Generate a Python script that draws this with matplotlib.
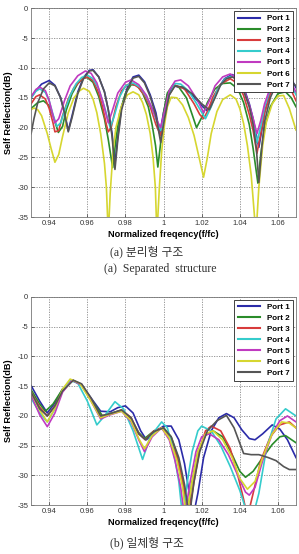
#recreate port self reflection plots (separated / integrated structure)

import numpy as np
import matplotlib.pyplot as plt

plt.rc('font', family=['Liberation Sans', 'DejaVu Sans'])
plt.rc('xtick', labelsize=5.5)
plt.rc('ytick', labelsize=5.5)
plt.rc('axes', unicode_minus=False)

ports = ['Port 1', 'Port 2', 'Port 3', 'Port 4', 'Port 5', 'Port 6', 'Port 7']
colours = ['#2b2ba8', '#2a8c2a', '#d83c3c', '#35cccc', '#c03ac0', '#d6d630', '#555555']
xticks = [0.94, 0.96, 0.98, 1.0, 1.02, 1.04, 1.06]
yticks = [0, -5, -10, -15, -20, -25, -30, -35]

#(a) separated structure
a_x1 = [0.9305, 0.933, 0.936, 0.940, 0.943, 0.946, 0.948, 0.950, 0.952, 0.955, 0.958, 0.961, 0.963, 0.966, 0.969, 0.971, 0.973, 0.9745, 0.976, 0.978, 0.981, 0.984, 0.987, 0.990, 0.993, 0.996, 0.998, 1.000, 1.002, 1.005, 1.010, 1.015, 1.020, 1.023, 1.026, 1.029, 1.032, 1.036, 1.039, 1.042, 1.045, 1.047, 1.0485, 1.050, 1.0515, 1.053, 1.056, 1.059, 1.063, 1.066, 1.0695]
a_y1 = [-15.0, -13.8, -12.7, -12.1, -12.9, -15.0, -17.5, -20.5, -18.0, -14.0, -11.6, -10.4, -10.3, -11.5, -14.0, -17.0, -21.0, -26.0, -21.5, -16.5, -13.3, -11.5, -11.2, -12.3, -14.5, -17.5, -21.0, -17.5, -14.5, -13.0, -13.3, -14.5, -16.3, -17.2, -15.5, -13.2, -11.8, -11.1, -11.6, -13.2, -16.0, -18.5, -21.0, -23.3, -20.5, -17.5, -14.0, -11.8, -10.7, -11.2, -13.3]
a_x2 = [0.9305, 0.934, 0.937, 0.940, 0.942, 0.9448, 0.947, 0.949, 0.952, 0.955, 0.958, 0.960, 0.963, 0.966, 0.969, 0.971, 0.9733, 0.975, 0.977, 0.980, 0.983, 0.986, 0.989, 0.992, 0.994, 0.9958, 0.997, 0.9985, 1.000, 1.002, 1.005, 1.008, 1.012, 1.015, 1.0173, 1.020, 1.023, 1.027, 1.031, 1.035, 1.039, 1.042, 1.045, 1.047, 1.0495, 1.051, 1.053, 1.056, 1.060, 1.064, 1.067, 1.0695]
a_y2 = [-16.8, -15.8, -15.5, -16.3, -18.0, -20.8, -19.8, -17.0, -14.3, -12.6, -11.7, -11.6, -12.4, -14.8, -18.5, -22.0, -26.7, -22.0, -17.5, -14.3, -12.8, -12.9, -14.2, -16.5, -19.5, -23.0, -26.6, -22.5, -17.5, -14.2, -12.8, -13.2, -15.0, -17.8, -20.0, -18.3, -15.8, -13.5, -12.6, -12.5, -13.5, -15.8, -19.5, -23.5, -29.3, -24.5, -20.0, -16.5, -14.3, -14.0, -15.0, -16.5]
a_x3 = [0.9305, 0.933, 0.935, 0.938, 0.940, 0.942, 0.943, 0.945, 0.947, 0.950, 0.953, 0.957, 0.960, 0.963, 0.966, 0.968, 0.970, 0.971, 0.9725, 0.975, 0.978, 0.981, 0.984, 0.987, 0.990, 0.993, 0.996, 0.9985, 1.0005, 1.003, 1.006, 1.011, 1.016, 1.019, 1.021, 1.023, 1.026, 1.030, 1.035, 1.039, 1.042, 1.045, 1.047, 1.049, 1.051, 1.053, 1.056, 1.059, 1.062, 1.066, 1.0695]
a_y3 = [-16.0, -14.8, -14.5, -15.2, -16.8, -19.2, -20.7, -20.5, -18.0, -15.2, -13.3, -11.9, -11.5, -12.1, -14.2, -16.5, -19.5, -20.7, -20.0, -16.5, -13.8, -12.8, -12.7, -13.3, -14.6, -16.5, -19.5, -21.3, -18.5, -14.5, -12.9, -13.5, -16.0, -17.8, -18.5, -17.3, -14.8, -12.7, -11.8, -12.6, -14.6, -17.8, -20.5, -24.3, -21.0, -17.5, -14.3, -12.5, -12.0, -13.0, -15.5]
a_x4 = [0.9305, 0.933, 0.935, 0.938, 0.940, 0.942, 0.944, 0.946, 0.948, 0.951, 0.954, 0.957, 0.960, 0.963, 0.966, 0.969, 0.972, 0.974, 0.977, 0.980, 0.984, 0.988, 0.991, 0.994, 0.9965, 0.9985, 1.0005, 1.003, 1.006, 1.009, 1.013, 1.017, 1.022, 1.025, 1.028, 1.032, 1.036, 1.039, 1.042, 1.045, 1.047, 1.049, 1.051, 1.053, 1.056, 1.059, 1.062, 1.066, 1.0695]
a_y4 = [-15.0, -13.9, -13.5, -14.1, -15.5, -17.8, -19.8, -19.2, -17.2, -14.6, -12.7, -11.6, -11.2, -11.8, -13.5, -16.5, -20.0, -18.2, -14.8, -13.0, -12.5, -13.3, -14.8, -16.8, -19.0, -20.5, -18.0, -14.5, -12.6, -12.7, -13.8, -15.8, -18.5, -16.5, -13.8, -11.9, -11.3, -11.9, -13.7, -16.5, -19.0, -22.5, -19.8, -16.5, -13.6, -11.9, -11.4, -12.3, -14.5]
a_x5 = [0.9305, 0.933, 0.935, 0.938, 0.940, 0.942, 0.943, 0.945, 0.948, 0.951, 0.955, 0.959, 0.962, 0.965, 0.968, 0.971, 0.973, 0.976, 0.980, 0.983, 0.987, 0.991, 0.994, 0.9965, 0.9985, 1.0005, 1.003, 1.006, 1.009, 1.013, 1.018, 1.021, 1.024, 1.027, 1.031, 1.035, 1.039, 1.042, 1.045, 1.047, 1.049, 1.051, 1.053, 1.056, 1.059, 1.062, 1.066, 1.0695]
a_y5 = [-14.8, -13.6, -13.2, -13.8, -15.5, -18.0, -19.2, -18.5, -15.5, -13.0, -11.3, -10.5, -10.9, -12.5, -15.5, -19.2, -17.3, -14.2, -12.4, -12.0, -12.8, -14.6, -16.8, -18.8, -20.0, -17.2, -13.8, -12.2, -12.0, -13.0, -15.5, -17.5, -15.5, -13.0, -11.5, -11.0, -11.8, -13.5, -16.2, -18.5, -21.0, -18.8, -16.0, -13.3, -11.7, -11.2, -12.0, -14.0]
a_x6 = [0.9305, 0.932, 0.934, 0.936, 0.939, 0.941, 0.943, 0.945, 0.947, 0.950, 0.953, 0.956, 0.958, 0.961, 0.963, 0.965, 0.967, 0.969, 0.970, 0.971, 0.972, 0.9735, 0.975, 0.978, 0.981, 0.984, 0.987, 0.989, 0.991, 0.993, 0.9945, 0.9957, 0.9965, 0.9978, 0.999, 1.0005, 1.002, 1.004, 1.007, 1.010, 1.013, 1.016, 1.0185, 1.021, 1.023, 1.025, 1.028, 1.031, 1.035, 1.038, 1.040, 1.042, 1.044, 1.046, 1.047, 1.0485, 1.050, 1.052, 1.054, 1.057, 1.060, 1.063, 1.066, 1.0695]
a_y6 = [-17.0, -16.7, -17.0, -18.0, -21.0, -23.5, -25.8, -24.5, -21.5, -17.5, -15.0, -13.8, -13.4, -13.9, -15.2, -17.5, -21.0, -26.0, -30.0, -38.0, -31.0, -24.0, -20.0, -16.3, -14.5, -14.0, -14.5, -15.8, -17.8, -21.0, -25.0, -30.0, -38.0, -30.0, -24.0, -19.5, -16.5, -14.9, -15.0, -16.2, -18.3, -21.3, -24.8, -28.3, -25.0, -21.0, -17.3, -15.3, -14.5, -15.2, -16.8, -19.3, -23.0, -28.0, -32.0, -38.0, -30.0, -23.0, -19.0, -16.0, -14.7, -14.6, -16.8, -20.4]
a_x7 = [0.9305, 0.932, 0.934, 0.937, 0.940, 0.943, 0.946, 0.948, 0.950, 0.952, 0.955, 0.958, 0.961, 0.963, 0.966, 0.969, 0.971, 0.973, 0.9745, 0.976, 0.978, 0.981, 0.984, 0.987, 0.990, 0.993, 0.996, 0.9985, 1.0005, 1.003, 1.006, 1.010, 1.015, 1.020, 1.024, 1.027, 1.030, 1.033, 1.036, 1.039, 1.042, 1.045, 1.047, 1.0487, 1.050, 1.0515, 1.053, 1.056, 1.059, 1.063, 1.066, 1.0695]
a_y7 = [-21.0, -18.5, -15.8, -13.5, -12.5, -13.0, -15.0, -17.5, -20.7, -18.3, -14.3, -11.8, -10.5, -10.4, -11.5, -14.0, -17.0, -21.5, -27.0, -22.0, -17.0, -13.6, -11.7, -11.4, -12.5, -14.8, -18.0, -22.5, -18.5, -14.5, -13.0, -13.2, -14.3, -16.0, -17.0, -15.0, -12.8, -11.8, -11.5, -12.0, -13.8, -16.5, -19.5, -23.5, -29.2, -23.5, -19.0, -15.0, -12.8, -11.8, -12.0, -13.0]

#(b) integrated structure
b_x1 = [0.9305, 0.935, 0.939, 0.943, 0.947, 0.9525, 0.957, 0.962, 0.967, 0.972, 0.976, 0.980, 0.984, 0.988, 0.991, 0.995, 1.000, 1.004, 1.008, 1.011, 1.0135, 1.0155, 1.018, 1.021, 1.025, 1.029, 1.033, 1.037, 1.041, 1.045, 1.048, 1.052, 1.057, 1.061, 1.065, 1.0695]
b_y1 = [-14.9, -17.5, -19.5, -17.8, -15.5, -14.0, -14.8, -17.0, -19.2, -19.3, -18.6, -18.3, -19.5, -22.5, -24.0, -22.8, -21.7, -21.7, -24.0, -28.0, -33.0, -37.0, -33.0, -27.0, -22.5, -20.3, -19.6, -20.3, -22.3, -23.8, -24.0, -23.0, -21.5, -22.2, -24.0, -27.0]
b_x2 = [0.9305, 0.935, 0.938, 0.942, 0.947, 0.952, 0.957, 0.962, 0.968, 0.973, 0.978, 0.983, 0.987, 0.990, 0.995, 1.000, 1.004, 1.007, 1.010, 1.012, 1.015, 1.018, 1.022, 1.026, 1.031, 1.036, 1.040, 1.043, 1.047, 1.052, 1.057, 1.061, 1.064, 1.0695]
b_y2 = [-15.6, -18.0, -19.2, -18.0, -15.5, -14.0, -14.8, -17.2, -20.0, -19.5, -19.0, -20.5, -22.8, -23.8, -22.5, -22.0, -23.5, -26.5, -31.0, -37.0, -31.0, -26.0, -23.2, -22.5, -23.5, -26.5, -29.3, -30.3, -29.3, -27.0, -24.8, -23.5, -23.3, -24.5]
b_x3 = [0.9305, 0.935, 0.939, 0.943, 0.947, 0.952, 0.957, 0.962, 0.967, 0.972, 0.978, 0.983, 0.987, 0.9905, 0.995, 0.999, 1.003, 1.007, 1.0105, 1.013, 1.016, 1.019, 1.022, 1.025, 1.030, 1.035, 1.039, 1.042, 1.044, 1.047, 1.051, 1.056, 1.061, 1.066, 1.0695]
b_y3 = [-16.0, -18.5, -20.0, -18.3, -15.8, -14.0, -14.7, -17.3, -20.0, -19.7, -19.0, -20.3, -23.0, -24.0, -22.5, -22.0, -23.5, -27.0, -31.5, -37.0, -31.0, -25.5, -22.5, -21.7, -22.5, -25.5, -30.0, -34.0, -37.0, -33.0, -27.5, -23.5, -21.5, -21.0, -22.0]
b_x4 = [0.9305, 0.935, 0.939, 0.943, 0.947, 0.951, 0.955, 0.960, 0.965, 0.969, 0.9745, 0.979, 0.984, 0.989, 0.993, 0.999, 1.002, 1.005, 1.008, 1.010, 1.0125, 1.015, 1.018, 1.020, 1.025, 1.030, 1.035, 1.040, 1.043, 1.046, 1.050, 1.054, 1.059, 1.064, 1.0695]
b_y4 = [-17.0, -19.5, -21.0, -18.8, -15.8, -14.0, -14.5, -17.5, -21.5, -20.0, -17.6, -18.8, -22.5, -27.3, -23.5, -21.0, -22.0, -25.5, -31.0, -37.0, -31.0, -26.0, -22.5, -21.7, -22.5, -25.0, -28.5, -32.5, -35.5, -38.0, -33.0, -25.5, -20.5, -18.8, -20.0]
b_x5 = [0.9305, 0.935, 0.939, 0.943, 0.947, 0.952, 0.957, 0.962, 0.967, 0.972, 0.978, 0.983, 0.987, 0.990, 0.994, 0.999, 1.003, 1.006, 1.009, 1.011, 1.014, 1.017, 1.020, 1.024, 1.029, 1.034, 1.039, 1.043, 1.045, 1.048, 1.052, 1.057, 1.061, 1.065, 1.0695]
b_y5 = [-16.5, -19.8, -21.8, -19.5, -16.0, -14.0, -14.8, -17.5, -20.5, -19.8, -19.2, -21.0, -24.0, -26.0, -23.5, -22.0, -24.0, -27.5, -32.0, -37.0, -31.0, -26.0, -23.5, -23.0, -24.0, -26.5, -30.0, -32.8, -33.3, -32.0, -27.5, -23.0, -20.8, -20.0, -21.0]
b_x6 = [0.9305, 0.935, 0.939, 0.943, 0.947, 0.951, 0.956, 0.961, 0.967, 0.972, 0.978, 0.983, 0.987, 0.990, 0.994, 0.999, 1.003, 1.007, 1.010, 1.012, 1.015, 1.018, 1.022, 1.026, 1.031, 1.036, 1.040, 1.044, 1.048, 1.052, 1.057, 1.062, 1.066, 1.0695]
b_y6 = [-16.0, -19.0, -21.0, -18.7, -15.5, -13.8, -14.5, -17.0, -20.3, -19.7, -19.2, -20.8, -23.8, -25.5, -23.3, -22.0, -23.7, -27.5, -32.0, -37.0, -31.0, -26.0, -23.0, -22.5, -24.0, -27.0, -30.5, -32.3, -31.0, -27.0, -23.0, -21.0, -21.2, -22.0]
b_x7 = [0.9305, 0.935, 0.939, 0.943, 0.947, 0.9527, 0.957, 0.962, 0.967, 0.972, 0.978, 0.983, 0.987, 0.9905, 0.995, 1.000, 1.004, 1.008, 1.011, 1.0135, 1.016, 1.019, 1.023, 1.028, 1.033, 1.037, 1.042, 1.046, 1.050, 1.055, 1.059, 1.063, 1.066, 1.0695]
b_y7 = [-16.0, -18.8, -20.0, -18.3, -15.8, -14.0, -14.6, -17.0, -20.0, -19.6, -19.0, -20.3, -23.0, -24.0, -22.6, -22.0, -23.5, -27.0, -31.5, -37.0, -31.0, -26.0, -22.5, -20.8, -19.9, -22.0, -26.3, -26.5, -26.5, -27.0, -27.5, -28.5, -29.0, -29.0]

a_x = [a_x1, a_x2, a_x3, a_x4, a_x5, a_x6, a_x7]
a_y = [a_y1, a_y2, a_y3, a_y4, a_y5, a_y6, a_y7]
b_x = [b_x1, b_x2, b_x3, b_x4, b_x5, b_x6, b_x7]
b_y = [b_y1, b_y2, b_y3, b_y4, b_y5, b_y6, b_y7]

caption_font = ['Liberation Serif', 'Noto Sans CJK KR']


def plotports(ax, xs, ys):
    for x, y, lab, c in zip(xs, ys, ports, colours):
        ax.plot(x, y, color=c, lw=1.2, label=lab)
    ax.set_xlim([0.9305, 1.0695])
    ax.set_ylim([-35, 0])
    ax.set_xticks(xticks)
    ax.set_xticklabels(['0.94', '0.96', '0.98', '1', '1.02', '1.04', '1.06'])
    ax.set_yticks(yticks)
    ax.tick_params(direction='in', length=2, width=0.5, colors='#333333', pad=2)
    ax.grid(which='major', color='#888888', linestyle=(0, (1.5, 1.5)), linewidth=0.6)
    for s in ax.spines.values():
        s.set_color('#777777')
        s.set_linewidth(0.6)
    ax.set_xlabel('Normalized freqency(f/fc)', fontsize=6.6, fontweight='bold', labelpad=2)
    ax.set_ylabel('Self Reflection(dB)', fontsize=6.6, fontweight='bold')
    ax.yaxis.set_label_coords(-0.07, 0.5)
    leg = ax.legend(loc='upper right', handlelength=2.8, borderpad=0.45,
                    labelspacing=0.42, fancybox=False, framealpha=1, borderaxespad=0.35,
                    prop={'weight': 'bold', 'size': 5.8})
    leg.get_frame().set_edgecolor('#222222')
    leg.get_frame().set_linewidth(0.6)
    for line in leg.get_lines():
        line.set_linewidth(1.5)


fig = plt.figure(figsize=(2.99, 5.54), dpi=100)
ax1 = fig.add_axes([0.104, 0.608, 0.886, 0.377])
ax2 = fig.add_axes([0.104, 0.088, 0.886, 0.376])

plotports(ax1, a_x, a_y)
plotports(ax2, b_x, b_y)

fig.text(0.49, 0.545, '(a) 분리형 구조', ha='center', va='center', fontsize=8.5, family=caption_font, color='#333333')
fig.text(0.535, 0.514, '(a)  Separated  structure', ha='center', va='center', fontsize=8.5, family=caption_font, color='#333333')
fig.text(0.49, 0.02, '(b) 일체형 구조', ha='center', va='center', fontsize=8.5, family=caption_font, color='#333333')

fig.savefig('out.png', dpi=100)
